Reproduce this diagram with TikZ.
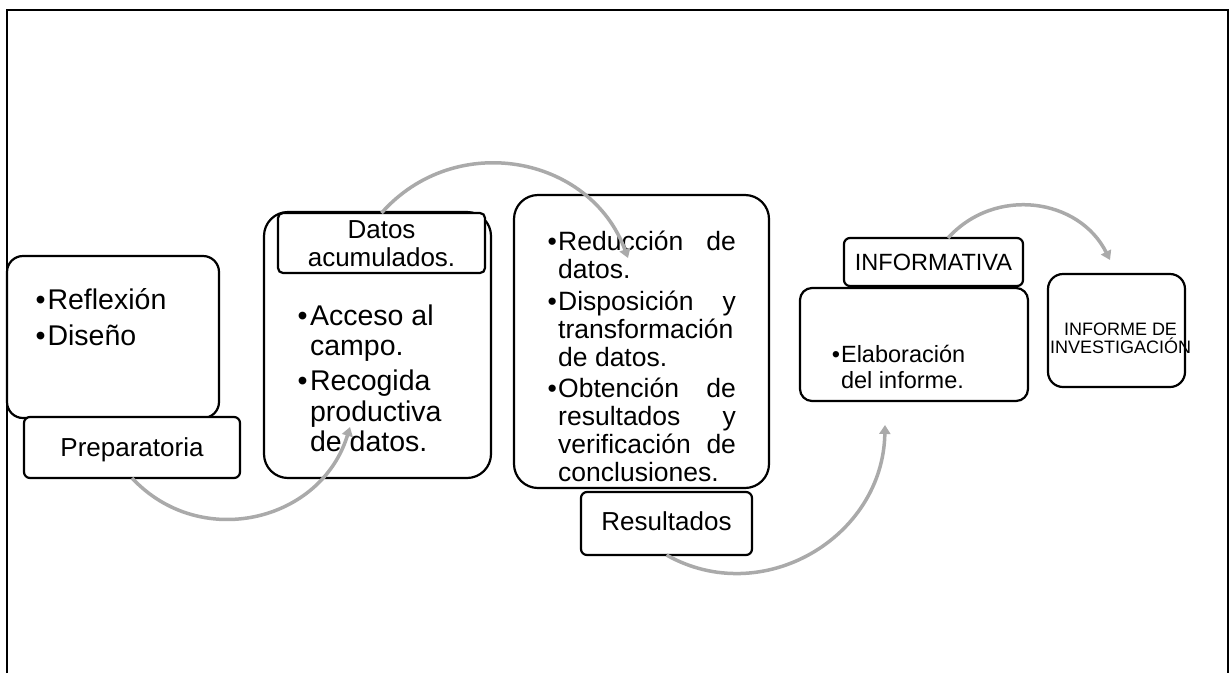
\documentclass[tikz,border=0pt]{standalone}
\usepackage{fontspec}
\setmainfont{Liberation Sans}
\usetikzlibrary{arrows.meta}
\definecolor{arcgray}{RGB}{170,170,170}
\newcommand\bul[1]{\makebox[#1][l]{\textbullet}}
\tikzset{
  card/.style={draw=black, line width=2.2pt, fill=white, inner sep=0pt, outer sep=0pt},
  flow/.style={draw=arcgray, line width=3.5pt, -{Triangle[length=9pt,width=11pt]}},
  txt/.style={inner sep=0pt, outer sep=0pt, anchor=base west},
  ctxt/.style={inner sep=0pt, outer sep=0pt, anchor=base},
}
\begin{document}
\begin{tikzpicture}[x=1pt,y=-1pt]
\useasboundingbox (0,0) rectangle (1230,673);
% outer frame
\draw[line width=2pt] (7,673) -- (7,10) -- (1228,10) -- (1228,673);

% boxes
\node[card, rounded corners=16pt, minimum width=212pt, minimum height=162pt] (b1) at (113,337) {};
\node[card, rounded corners=6pt, minimum width=216pt, minimum height=61pt] (prep) at (132,447.5) {};
\node[card, rounded corners=24pt, minimum width=227pt, minimum height=266pt] (b2) at (377.5,345) {};
\node[card, rounded corners=5pt, minimum width=207pt, minimum height=60pt] (hdr) at (381.5,243) {};
\node[card, rounded corners=24pt, minimum width=255pt, minimum height=293pt] (b3) at (641.5,341.5) {};
\node[card, rounded corners=6pt, minimum width=171pt, minimum height=63pt] (res) at (666.5,523.5) {};
\node[card, rounded corners=12pt, minimum width=228pt, minimum height=113pt] (b4) at (914,344.5) {};
\node[card, rounded corners=6pt, minimum width=179pt, minimum height=48pt] (inf) at (933.5,262) {};
\node[card, rounded corners=15pt, minimum width=137pt, minimum height=113pt] (b5) at (1116.5,330.5) {};

% texts
\node[txt] (t1) at (35.6,309.3) {\parbox[t]{180pt}{\raggedright\fontsize{28.5}{30.5}\selectfont
  \bul{12pt}Reflexión\\[6pt]
  \bul{12pt}Diseño}};
\node[ctxt] (tprep) at (132,456.7) {\fontsize{26}{28}\selectfont Preparatoria};
\node[ctxt] (thdr) at (381.5,238.3) {\parbox[t]{200pt}{\centering\fontsize{26}{28.4}\selectfont Datos\\acumulados.}};
\node[txt] (t2) at (297.6,325) {\parbox[t]{190pt}{\raggedright\fontsize{28.5}{30.5}\selectfont
  \bul{12.5pt}Acceso al\\
  \hspace*{12.5pt}campo.\\[4.5pt]
  \bul{12.5pt}Recogida\\
  \hspace*{12.5pt}productiva\\
  \hspace*{12.5pt}de datos.}};
\node[txt] (t3) at (547.7,250.7) {\parbox[t]{200pt}{\raggedright\fontsize{26.5}{28}\selectfont
  \bul{10.5pt}\makebox[177.8pt][s]{Reducción de}\\
  \hspace*{10.5pt}datos.\\[3.5pt]
  \bul{10.5pt}\makebox[177.8pt][s]{Disposición y}\\
  \hspace*{10.5pt}transformación\\
  \hspace*{10.5pt}de datos.\\[3.5pt]
  \bul{10.5pt}\makebox[177.8pt][s]{Obtención de}\\
  \hspace*{10.5pt}\makebox[177.8pt][s]{resultados y}\\
  \hspace*{10.5pt}\makebox[177.8pt][s]{verificación de}\\
  \hspace*{10.5pt}conclusiones.}};
\node[ctxt] (tres) at (666.5,530) {\fontsize{26}{28}\selectfont Resultados};
\node[ctxt] (tinf) at (933.5,270) {\fontsize{23.5}{25}\selectfont INFORMATIVA};
\node[txt] (t4) at (831.8,362.7) {\parbox[t]{190pt}{\raggedright\fontsize{23.5}{25.6}\selectfont
  \bul{9.3pt}Elaboración\\
  \hspace*{9.3pt}del informe.}};
\node[ctxt] (t5) at (1120.5,335) {\parbox[t]{170pt}{\centering\fontsize{18}{18.3}\selectfont INFORME DE\\INVESTIGACIÓN}};

% connector ends
\coordinate (e1) at (350,427);
\coordinate (e2) at (628,258);
\coordinate (e3) at (885,425);
\coordinate (e4) at (1110,260);
\coordinate (s4) at ([xshift=14.5pt]inf.north);

% arcs
\draw[flow] (prep.south) .. controls (200,551) and (321,522) .. (e1);
\draw[flow] (hdr.north) .. controls (455,130) and (590,155) .. (e2);
\draw[flow] (res.south) .. controls (762,609) and (883,538) .. (e3);
\draw[flow] (s4) .. controls (995,186) and (1079,198) .. (e4);
\end{tikzpicture}
\end{document}
